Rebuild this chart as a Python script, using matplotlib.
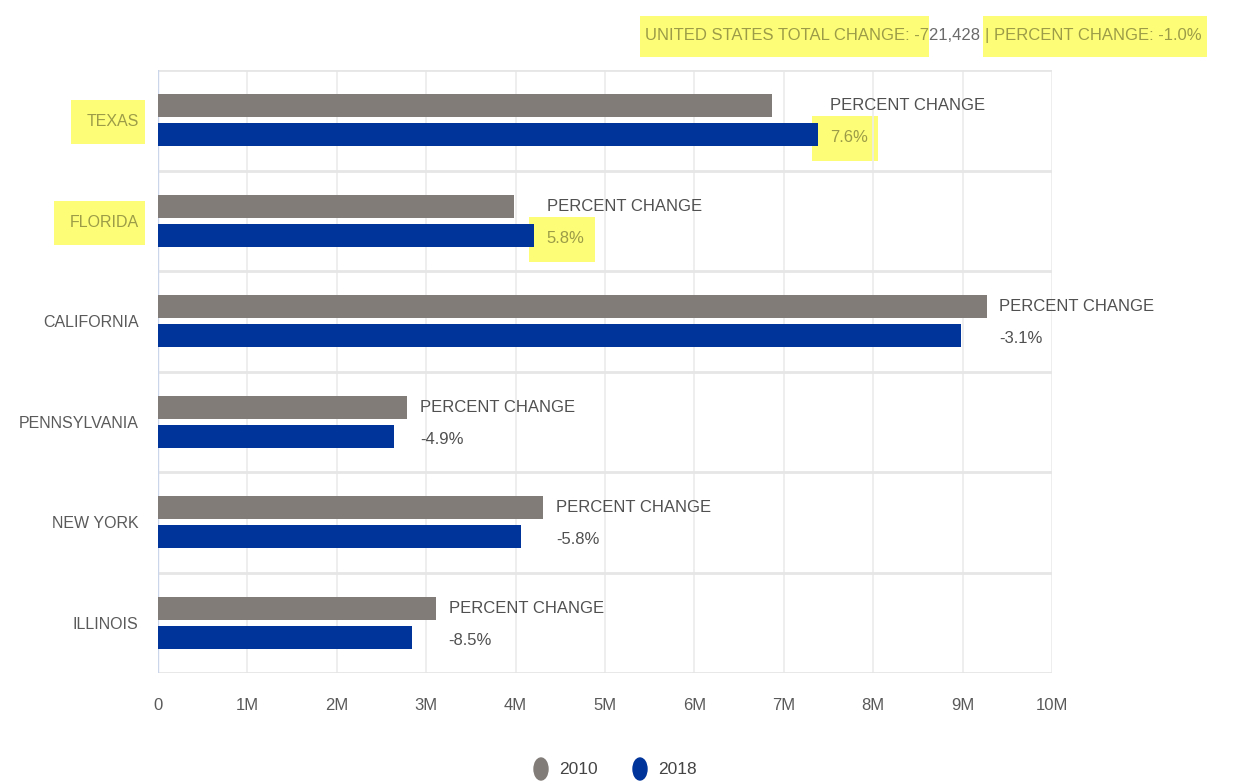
import matplotlib
matplotlib.use("Agg")
import matplotlib.pyplot as plt
from matplotlib.patches import Rectangle, Ellipse
import numpy as np

plt.rcParams['font.family'] = ['Liberation Sans', 'DejaVu Sans']

# data (millions)
states = ["TEXAS", "FLORIDA", "CALIFORNIA", "PENNSYLVANIA", "NEW YORK", "ILLINOIS"]
pop_2010 = [6.87, 3.98, 9.27, 2.79, 4.31, 3.11]
pop_2018 = [7.38, 4.21, 8.98, 2.64, 4.06, 2.84]
pct_labels = ["7.6%", "5.8%", "-3.1%", "-4.9%", "-5.8%", "-8.5%"]
highlighted = ["TEXAS", "FLORIDA"]
xticks = [0, 1, 2, 3, 4, 5, 6, 7, 8, 9, 10]
xtick_labels = ["0", "1M", "2M", "3M", "4M", "5M", "6M", "7M", "8M", "9M", "10M"]

GRAY = "#827c78"
BLUE = "#00349a"
YELLOW = "#fdfd78"
HL_TEXT = "#9c9c48"
W, H = 1233, 781

fig = plt.figure(figsize=(W/100, H/100), dpi=100)
ax = fig.add_axes([158/W, 1-673/H, (1052-158)/W, (673-70)/H])
ax.set_facecolor("none")

y = np.arange(len(states))
h = 0.23
off = 0.145
ax.barh(y - off, pop_2010, height=h, color=GRAY, zorder=3)
ax.barh(y + off, pop_2018, height=h, color=BLUE, zorder=3)

ax.set_xlim(0, 10)
ax.set_ylim(len(states) - 0.5, -0.5)
ax.set_xticks(xticks)
ax.set_xticklabels(xtick_labels)
ax.set_yticks(y)
ax.set_yticklabels(states)
ax.tick_params(axis='both', length=0, labelcolor="#5a5a5a")
ax.tick_params(axis='x', pad=18, labelsize=12)
ax.tick_params(axis='y', pad=14, labelsize=11.5)

# grid
for xv in xticks[1:]:
    ax.axvline(xv, color="#ebebeb", lw=1.2, zorder=0)
for yb in np.arange(-0.5, len(states) + 0.5, 1):
    ax.axhline(yb, color="#e6e6e6", lw=2, zorder=1)
for s in ax.spines.values():
    s.set_visible(False)
ax.axvline(0, color="#ccd6eb", lw=1, zorder=2)

hl_texts = []

# annotations
for i, st in enumerate(states):
    xe = max(pop_2010[i], pop_2018[i])
    ax.annotate("PERCENT CHANGE", xy=(xe, i - off), xytext=(9, 0),
                textcoords="offset points", va="center", ha="left",
                fontsize=12, color="#505050", zorder=5)
    hl = st in highlighted
    t = ax.annotate(pct_labels[i], xy=(xe, i + off + 0.03), xytext=(9, 0),
                    textcoords="offset points", va="center", ha="left",
                    fontsize=12, color=HL_TEXT if hl else "#505050", zorder=5)
    if hl:
        hl_texts.append((t, 18, 10, 14, 16))

for lbl in ax.get_yticklabels():
    if lbl.get_text() in highlighted:
        lbl.set_color(HL_TEXT)
        hl_texts.append((lbl, 15, 6, 14, 15))

# title pieces
ty = 1 - 40/H
t1 = fig.text(645/W, ty, "UNITED STATES TOTAL CHANGE: -7", fontsize=12,
              color=HL_TEXT, va="baseline", ha="left")
t2 = fig.text(0, ty, "21,428 ", fontsize=12, color="#6a6a6a", va="baseline", ha="left")
t3 = fig.text(0, ty, "| PERCENT CHANGE: -1.0%", fontsize=12, color=HL_TEXT,
              va="baseline", ha="left")
fig.canvas.draw()
r = fig.canvas.get_renderer()
bb1 = t1.get_window_extent(r)
t2.set_position((bb1.x1 / W, ty))
bb2 = t2.get_window_extent(r)
t3.set_position((bb2.x1 / W, ty))
hl_texts.append((t1, 5, 0, 12, 14))
hl_texts.append((t3, 2, 6, 12, 14))
fig.canvas.draw()

# highlighter marks behind the texts
for t, pl, pr, pt, pb in hl_texts:
    bb = t.get_window_extent(r)
    fig.add_artist(Rectangle(((bb.x0 - pl)/W, (bb.y0 - pb)/H),
                             (bb.width + pl + pr)/W, (bb.height + pt + pb)/H,
                             transform=fig.transFigure, fc=YELLOW, ec="none",
                             zorder=-1))

# legend
for cx, col, lab in [(541, GRAY, "2010"), (640, BLUE, "2018")]:
    fig.add_artist(Ellipse((cx/W, 1-769/H), 14/W, 22/H, color=col,
                           transform=fig.transFigure))
    fig.text((cx + 18)/W, 1-769/H, lab, fontsize=12.5, color="#444444",
             va="center", ha="left")

fig.savefig("out.png", dpi=100, facecolor="white")
